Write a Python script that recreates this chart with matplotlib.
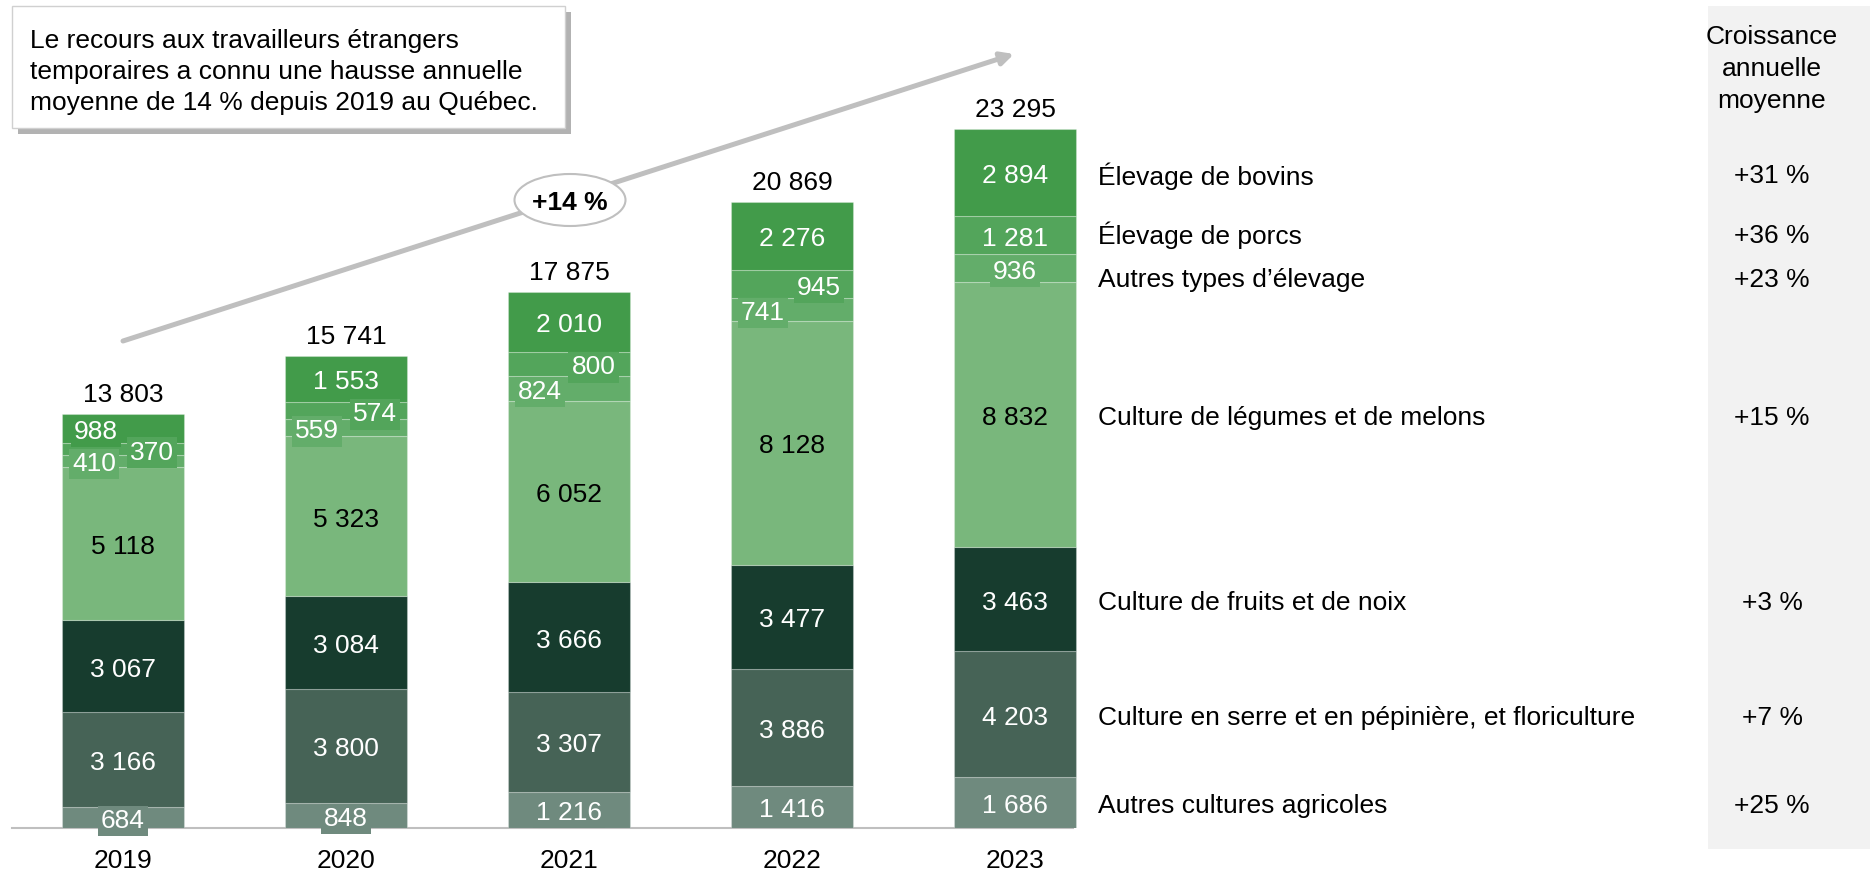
import matplotlib.pyplot as plt
import matplotlib.patheffects as pe
from matplotlib.patches import Ellipse, FancyBboxPatch, Rectangle
import numpy as np

plt.rcParams['font.family'] = ['Liberation Sans', 'DejaVu Sans']

years = ['2019', '2020', '2021', '2022', '2023']
categories = ['Autres cultures agricoles',
              'Culture en serre et en pépinière, et floriculture',
              'Culture de fruits et de noix',
              'Culture de légumes et de melons',
              'Autres types d’élevage',
              'Élevage de porcs',
              'Élevage de bovins']
autres_cultures = [684, 848, 1216, 1416, 1686]
serre = [3166, 3800, 3307, 3886, 4203]
fruits = [3067, 3084, 3666, 3477, 3463]
legumes = [5118, 5323, 6052, 8128, 8832]
autres_elevage = [410, 559, 824, 741, 936]
porcs = [370, 574, 800, 945, 1281]
bovins = [988, 1553, 2010, 2276, 2894]
totals = [13803, 15741, 17875, 20869, 23295]
growth = ['+25 %', '+7 %', '+3 %', '+15 %', '+23 %', '+36 %', '+31 %']
cagr_label = '+14 %'
note_lines = ['Le recours aux travailleurs étrangers',
              'temporaires a connu une hausse annuelle',
              'moyenne de 14 % depuis 2019 au Québec.']
growth_title = ['Croissance', 'annuelle', 'moyenne']

series = [autres_cultures, serre, fruits, legumes, autres_elevage, porcs, bovins]
colors = ['#6f8a7e', '#466356', '#173c2e', '#79b77c', '#63ad6a', '#53a55b', '#429b4a']
text_colors = ['white', 'white', 'white', 'black', 'white', 'white', 'white']
# horizontal nudges of the small labels so they don't collide
x_nudge = [[0] * 5, [0] * 5, [0] * 5, [0] * 5,
           [-0.13, -0.13, -0.13, -0.13, 0],
           [0.13, 0.13, 0.11, 0.12, 0],
           [-0.12, 0, 0, 0, 0]]
# vertical nudge (px) of the right-hand category labels
label_dy = [0, 0, 0, 0, 8, -3, 0]

def fmt(v):
    return f"{v:,}".replace(",", " ")

# pixel layout of the figure
W, H = 1870, 872
base_px = 828
x0_px, step_px = 123, 223
scale = 0.030006  # px per worker
text_drop = 3.5 / scale  # matplotlib centers text a bit high

def px_x(p):
    return (p - x0_px) / step_px

def px_y(p):
    return (base_px - p) / scale

FS = 19
fig = plt.figure(figsize=(W / 100, H / 100), dpi=100)
ax = fig.add_axes([0, 1 - base_px / H, 1, base_px / H])
ax.set_xlim(px_x(0), px_x(W))
ax.set_ylim(0, px_y(0))
ax.patch.set_visible(False)

x = np.arange(len(years))
bottom = np.zeros(len(years))
for k, vals in enumerate(series):
    vals = np.array(vals)
    ax.bar(x, vals, bottom=bottom, width=0.55, color=colors[k],
           edgecolor=(1, 1, 1, 0.25), linewidth=0.8, zorder=2)
    for i, v in enumerate(vals):
        ax.text(x[i] + x_nudge[k][i], bottom[i] + v / 2 - text_drop, fmt(v),
                ha='center', va='center', fontsize=FS, color=text_colors[k],
                zorder=4,
                bbox=dict(boxstyle='square,pad=0.12', fc=colors[k], ec='none'))
    # category label next to the last bar
    yl = bottom[-1] + vals[-1] / 2 - text_drop - label_dy[k] / scale
    ax.text(px_x(1098), yl, categories[k],
            ha='left', va='center', fontsize=FS, color='black')
    ax.text(px_x(1772), yl, growth[k],
            ha='center', va='center', fontsize=FS, color='black', zorder=3)
    bottom += vals

for i, t in enumerate(totals):
    ax.annotate(fmt(t), (x[i], t), xytext=(0, 5), textcoords='offset points',
                ha='center', va='bottom', fontsize=FS, color='black')

# growth column panel
ax.add_patch(Rectangle((px_x(1708), px_y(849)), px_x(1870) - px_x(1708),
                       px_y(6) - px_y(849), fc='#f2f2f2', ec='none',
                       clip_on=False, zorder=0))
for j, line in enumerate(growth_title):
    ax.text(px_x(1772), px_y(37 + 32 * j), line, ha='center', va='center',
            fontsize=FS, color='black', zorder=3)

# trend arrow and CAGR bubble
ax.annotate('', xy=(px_x(1014), px_y(54)), xytext=(x[0], px_y(341)),
            arrowprops=dict(arrowstyle='-|>,head_length=0.75,head_width=0.38',
                            color='#bfbfbf', lw=3.6, shrinkA=0, shrinkB=0),
            zorder=1)
ax.add_patch(Ellipse((px_x(570), px_y(200)), 111 / step_px, 52 / scale,
                     fc='white', ec='#bfbfbf', lw=1.5, zorder=3))
ax.text(px_x(570), px_y(203), cagr_label, ha='center', va='center',
        fontsize=FS, fontweight='bold', zorder=4)

# note box
box = FancyBboxPatch((px_x(12), px_y(128)), px_x(565) - px_x(12),
                     px_y(6) - px_y(128), boxstyle='square,pad=0',
                     fc='white', ec='#d0d0d0', lw=1, zorder=3, clip_on=False,
                     path_effects=[pe.SimplePatchShadow(offset=(4, -4),
                                                        shadow_rgbFace='#7f7f7f',
                                                        alpha=0.6),
                                   pe.Normal()])
ax.add_patch(box)
for j, line in enumerate(note_lines):
    ax.text(px_x(30), px_y(41 + 31 * j), line, ha='left', va='center',
            fontsize=FS, color='black', zorder=4)

# axis styling
for s in ['top', 'right', 'left']:
    ax.spines[s].set_visible(False)
ax.spines['bottom'].set_bounds(px_x(12), px_x(1073))
ax.spines['bottom'].set_color('#bfbfbf')
ax.spines['bottom'].set_linewidth(1.5)
ax.spines['bottom'].set_zorder(1)
ax.set_yticks([])
ax.set_xticks(x)
ax.set_xticklabels(years, fontsize=FS)
ax.tick_params(axis='x', length=0, pad=15)

fig.savefig('out.png', dpi=100)
